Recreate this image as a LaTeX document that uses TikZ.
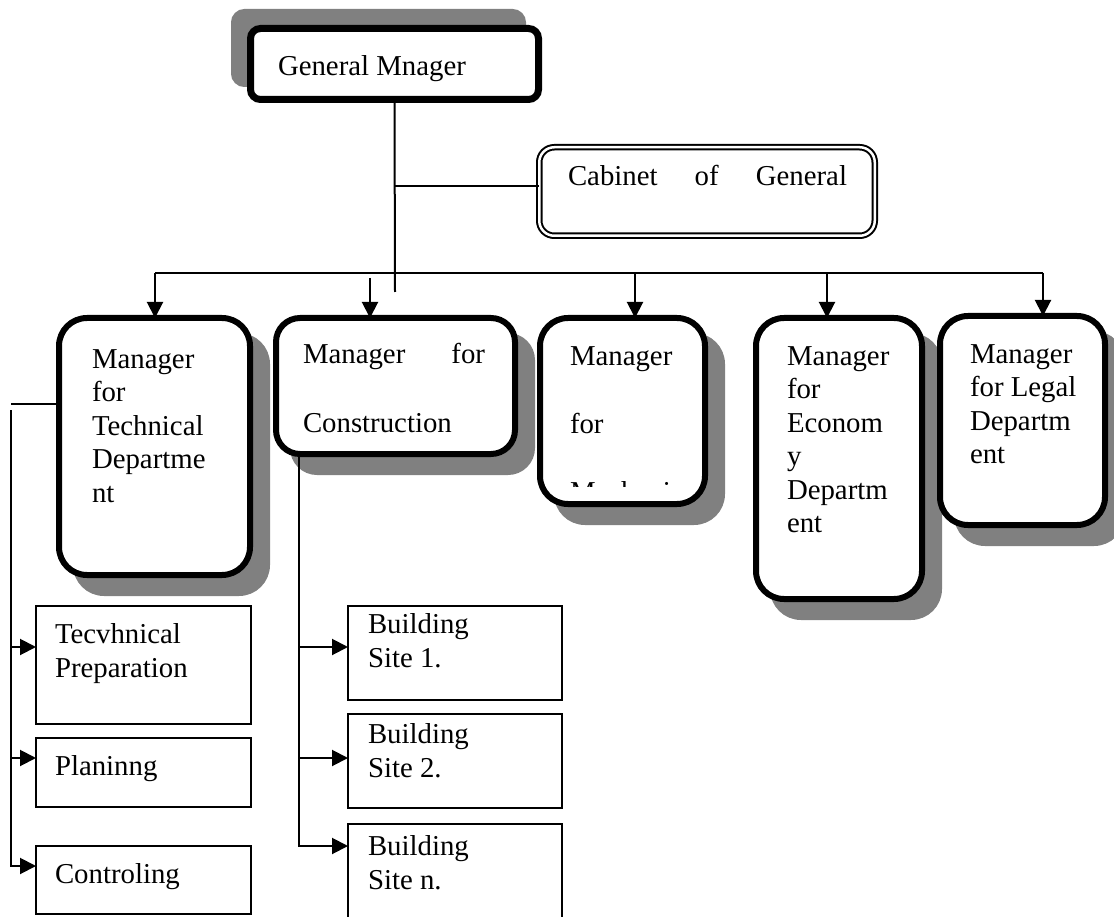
\documentclass[tikz,border=0pt]{standalone}
\usepackage{fontspec}
\setmainfont{Liberation Serif}
\usetikzlibrary{arrows.meta,shadows}
\definecolor{shd}{HTML}{808080}
\begin{document}
\begin{tikzpicture}[x=1pt,y=-1pt,
  every node/.style={inner sep=0pt, outer sep=0pt},
  txt/.style={font=\fontsize{28.8}{33.5}\selectfont, align=left, anchor=base west},
  mgr/.style={draw, line width=6pt, rounded corners=28pt, fill=white,
    drop shadow={shadow xshift=17pt, shadow yshift=-18pt, fill=shd, draw=shd, line width=6pt, opacity=1}},
  subbox/.style={draw, line width=2pt, fill=white},
  conn/.style={line width=2pt},
  arr/.style={line width=2pt, -{Triangle[length=16pt,width=16pt]}},
]
\useasboundingbox (0,0) rectangle (1114,917);

% General manager
\node[draw, line width=7pt, rounded corners=10pt, fill=white,
  drop shadow={shadow xshift=-16pt, shadow yshift=16pt, fill=shd, draw=shd, line width=7pt, opacity=1},
  minimum width=288pt, minimum height=71pt] (gm) at (394.5,64) {};
\node[txt] (gmt) at (278,76) {General Mnager};

% Cabinet
\node[draw, double, double distance=2.5pt, line width=2pt, rounded corners=15pt, fill=white,
  minimum width=335.5pt, minimum height=88.5pt] (cab) at (707,191.5) {};
\node[txt] (cabt) at (568,186) {\hbox to 279pt{Cabinet\hfill of\hfill General}};

% Managers
\node[mgr, minimum width=191pt, minimum height=257pt] (b1) at (154.5,446.5) {};
\node[mgr, rounded corners=24pt, minimum width=239pt, minimum height=136pt] (b2) at (395.5,386) {};
\node[mgr, minimum width=165pt, minimum height=186pt] (b3) at (622.5,411) {};
\node[mgr, minimum width=166pt, minimum height=281pt] (b4) at (839,458.5) {};
\node[mgr, minimum width=165pt, minimum height=209pt] (b5) at (1022.5,420.5) {};

% (base anchor = baseline of the last line)
\node[txt] (b1t) at (92,502) {Manager\\for\\Technical\\Departme\\nt};
\node[txt] (b2t) at (303,432) {\hbox to 182pt{Manager\hfill for}\\[35.5pt]Construction};
\begin{scope}
  \clip (540,318) rectangle (705,486);
  \node[txt] (b3t) at (570,501) {Manager\\[34.5pt]for\\[34.5pt]Mechani};
\end{scope}
\node[txt] (b4t) at (787,532.5) {Manager\\for\\Econom\\y\\Departm\\ent};
\node[txt] (b5t) at (970,463.5) {Manager\\for Legal\\Departm\\ent};

% Sub boxes technical
\node[subbox, minimum width=215pt, minimum height=118pt] (s1) at (143.5,665) {};
\node[subbox, minimum width=215pt, minimum height=69pt] (s2) at (143.5,772.5) {};
\node[subbox, minimum width=215pt, minimum height=68pt] (s3) at (143.5,880) {};
\node[txt] (s1t) at (55,677) {Tecvhnical\\Preparation};
\node[txt] (s2t) at (55,775) {Planinng};
\node[txt] (s3t) at (55,883) {Controling};

% Sub boxes construction
\node[subbox, minimum width=214pt, minimum height=94pt] (s4) at (455,653) {};
\node[subbox, minimum width=214pt, minimum height=94pt] (s5) at (455,761) {};
\node[subbox, minimum width=214pt, minimum height=106pt] (s6) at (455,877) {};
\node[txt] (s4t) at (368,667) {Building\\Site 1.};
\node[txt] (s5t) at (368,777) {Building\\Site 2.};
\node[txt] (s6t) at (368,889) {Building\\Site n.};

% Connectors top
\coordinate (v0) at (395,292);
\draw[conn] (gm.south) -- (v0);
\coordinate (j1) at (395,186);
\draw[conn] (j1) -- (j1 -| cab.west);
\coordinate (t1) at (155,273);
\coordinate (t2) at (370,278);
\coordinate (t3) at (635,273);
\coordinate (t4) at (827,273);
\coordinate (t5) at (1043,273);
\draw[conn] (t1) -- (t5);
\draw[arr] (t1) -- (t1 |- b1.north);
\draw[arr] (t2) -- (t2 |- b2.north);
\draw[arr] (t3) -- (t3 |- b3.north);
\draw[arr] (t4) -- (t4 |- b4.north);
\draw[arr] (t5) -- (t5 |- b5.north);

% Technical branch
\coordinate (h1) at (11,404);
\draw[conn] (h1 -| b1.west) -- (h1);
\coordinate (v1) at (11,410);
\coordinate (a1) at (11,647);
\coordinate (a2) at (11,758);
\coordinate (a3) at (11,866);
\draw[arr] (v1) -- (a3) -- (a3 -| s3.west);
\draw[arr] (a1) -- (a1 -| s1.west);
\draw[arr] (a2) -- (a2 -| s2.west);

% Construction branch
\coordinate (c1) at (299,647);
\coordinate (c2) at (299,758);
\coordinate (c3) at (299,846);
\draw[arr] (c1 |- b2.south) -- (c3) -- (c3 -| s6.west);
\draw[arr] (c1) -- (c1 -| s4.west);
\draw[arr] (c2) -- (c2 -| s5.west);
\end{tikzpicture}
\end{document}
